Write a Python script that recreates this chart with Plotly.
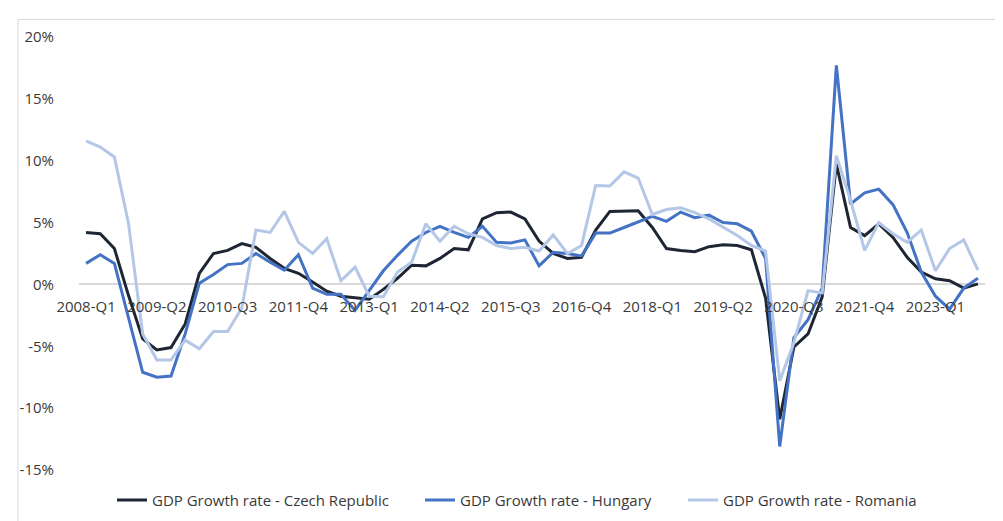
import plotly.graph_objects as go

years = list(range(2008, 2024))
quarters = [f"{y}-Q{q}" for y in years for q in range(1, 5)]

czech = [4.2, 4.1, 2.9, -0.9, -4.4, -5.3, -5.1, -3.2, 0.9, 2.5,
         2.75, 3.3, 3.0, 2.1, 1.3, 0.9, 0.2, -0.55, -0.95, -1.1,
         -1.2, -0.4, 0.5, 1.55, 1.5, 2.1, 2.9, 2.8, 5.3, 5.8,
         5.85, 5.3, 3.5, 2.5, 2.1, 2.2, 4.4, 5.9, 5.9, 5.95,
         4.6, 2.9, 2.75, 2.65, 3.05, 3.2, 3.15, 2.8, -1.1, -10.9,
         -5.05, -4.0, -1.0, 9.75, 4.6, 3.95, 4.9, 3.8, 2.2, 1.0,
         0.45, 0.3, -0.3, 0.05]

hungary = [1.7, 2.4, 1.7, -2.8, -7.1, -7.5, -7.4, -4.0, 0.1, 0.8,
           1.6, 1.7, 2.5, 1.8, 1.15, 2.4, -0.3, -0.8, -0.8, -2.1,
           -0.55, 1.1, 2.35, 3.5, 4.2, 4.7, 4.2, 3.8, 4.7, 3.4,
           3.35, 3.6, 1.5, 2.6, 2.5, 2.3, 4.15, 4.15, 4.6, 5.05,
           5.5, 5.1, 5.85, 5.4, 5.6, 5.0, 4.9, 4.3, 2.1, -13.1,
           -4.3, -2.85, -0.3, 17.7, 6.5, 7.4, 7.7, 6.45, 4.2, 1.0,
           -0.95, -2.0, -0.3, 0.5]

romania = [11.6, 11.1, 10.3, 4.9, -4.0, -6.1, -6.1, -4.5, -5.2, -3.8,
           -3.8, -1.9, 4.4, 4.2, 5.9, 3.4, 2.5, 3.7, 0.3, 1.4,
           -0.95, -1.0, 1.0, 1.8, 4.9, 3.5, 4.7, 4.1, 3.8, 3.15,
           2.9, 3.0, 2.7, 4.0, 2.5, 3.15, 8.0, 7.95, 9.1, 8.6,
           5.65, 6.05, 6.2, 5.8, 5.3, 4.6, 3.95, 3.15, 2.7, -7.8,
           -4.7, -0.5, -0.7, 10.4, 6.8, 2.75, 5.0, 4.1, 3.4, 4.4,
           1.1, 2.9, 3.6, 1.15]

series_names = ["GDP Growth rate - Czech Republic",
                "GDP Growth rate - Hungary",
                "GDP Growth rate - Romania"]
series_colors = ["#1f2633", "#4472c4", "#b4c7e7"]
legend_ids = ["legend", "legend2", "legend3"]

tick_labels = quarters[::5]
y_ticks = [-15, -10, -5, 0, 5, 10, 15, 20]

FONT = "Open Sans"
TXT = "#3a3a3a"
FS = 15

W, H = 1003, 521
L, R, T, B = 71, 26, 29, 49
plot_w = W - L - R
plot_h = H - T - B

fig = go.Figure()
data = [czech, hungary, romania]
for i in [0, 1, 2]:
    fig.add_trace(go.Scatter(
        x=quarters, y=data[i], mode="lines", name=series_names[i],
        line=dict(color=series_colors[i], width=3),
        legend=legend_ids[i],
    ))

legend_px = [104, 412, 675]
leg_common = dict(orientation="h", xanchor="left",
                  y=-31 / plot_h, yanchor="middle",
                  font=dict(family=FONT, size=FS, color=TXT),
                  itemwidth=30, bgcolor="rgba(0,0,0,0)")

fig.update_layout(
    width=W, height=H,
    margin=dict(l=L, r=R, t=T, b=B),
    paper_bgcolor="white", plot_bgcolor="white",
    font=dict(family=FONT, size=FS, color=TXT),
    showlegend=True,
    legend=dict(x=(legend_px[0] - L) / plot_w, **leg_common),
    legend2=dict(x=(legend_px[1] - L) / plot_w, **leg_common),
    legend3=dict(x=(legend_px[2] - L) / plot_w, **leg_common),
    xaxis=dict(type="category", range=[-0.5, len(quarters) - 0.5],
               tickmode="array", tickvals=tick_labels, ticktext=tick_labels,
               showgrid=False, showline=False, ticks="", zeroline=False,
               anchor="free", position=15 / 35, ticklabelstandoff=12,
               tickfont=dict(family=FONT, size=FS, color=TXT)),
    yaxis=dict(range=[-15, 20], tickmode="array", tickvals=y_ticks,
               ticktext=[f"{v}%" for v in y_ticks],
               showgrid=False, showline=False, ticks="",
               ticklabelstandoff=24,
               zeroline=True, zerolinecolor="#d9d9d9", zerolinewidth=2,
               tickfont=dict(family=FONT, size=FS, color=TXT)),
)

# chart border
fig.add_shape(type="rect", xref="paper", yref="paper",
              x0=(10 - L) / plot_w, x1=(1001 - L) / plot_w,
              y0=-0.5, y1=(H - B - 11) / plot_h,
              line=dict(color="#d9d9d9", width=1), layer="below")

fig.write_html("out.html")
